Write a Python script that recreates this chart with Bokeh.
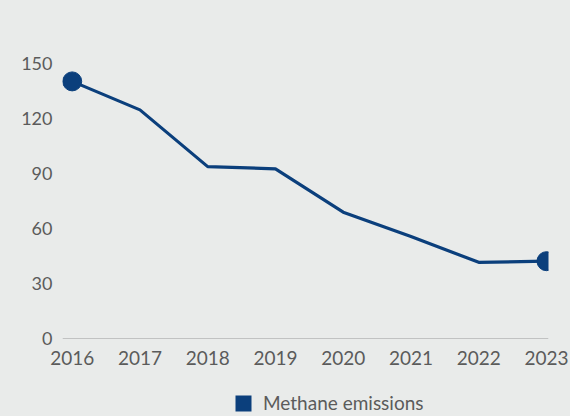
from bokeh.plotting import figure
from bokeh.layouts import column
from bokeh.models import Range1d, FixedTicker, Span, Legend, LegendItem
from bokeh.embed import file_html
from bokeh.resources import INLINE

years = [2016, 2017, 2018, 2019, 2020, 2021, 2022, 2023]
methane = [140, 124.5, 93.6, 92.4, 68.8, 55.5, 41.5, 42.1]
y_ticks = [0, 30, 60, 90, 120, 150]
series_name = "Methane emissions"

BG = "#e9ebea"
NAVY = "#0b3f7c"
TXT = "#5b5b5b"
FONT = "Lato"

p = figure(width=570, height=392, output_backend="svg", toolbar_location=None,
           x_range=Range1d(2015.857, 2023.03), y_range=Range1d(0, 168.8),
           min_border_left=62, min_border_right=22, min_border_top=28, min_border_bottom=54,
           background_fill_color=None, border_fill_color=BG, outline_line_color=None)

p.grid.visible = False

p.xaxis.ticker = FixedTicker(ticks=years)
p.yaxis.ticker = FixedTicker(ticks=y_ticks)
for ax in (p.xaxis, p.yaxis):
    ax.axis_line_color = None
    ax.major_tick_line_color = None
    ax.minor_tick_line_color = None
    ax.major_tick_out = 0
    ax.major_tick_in = 0
    ax.major_label_text_font = FONT
    ax.major_label_text_color = TXT
p.xaxis.major_label_text_font_size = "19px"
p.yaxis.major_label_text_font_size = "18px"
p.xaxis.major_label_standoff = 12
p.yaxis.major_label_standoff = 10

p.add_layout(Span(location=0, dimension="width", line_color="#9a9a9a", line_width=1))

p.line(years, methane, line_width=3.2, line_color=NAVY)
p.scatter([years[0], years[-1]], [methane[0], methane[-1]], size=19,
          fill_color=NAVY, line_color=NAVY)

# legend strip under the chart
lg = figure(width=570, height=24, output_backend="svg", toolbar_location=None,
            x_axis_type=None, y_axis_type=None,
            x_range=Range1d(0, 1), y_range=Range1d(0, 1),
            min_border=0, min_border_left=62, min_border_right=22,
            background_fill_color=None, border_fill_color=BG, outline_line_color=None)
lg.grid.visible = False
sq = lg.vbar(x=years, top=methane, width=0.5, fill_color=NAVY, line_color=None, visible=False)
legend = Legend(items=[LegendItem(label=series_name, renderers=[sq])],
                location=(171, 2), orientation="horizontal",
                background_fill_alpha=0, border_line_color=None,
                label_text_font=FONT, label_text_font_size="19px", label_text_color=TXT,
                glyph_width=20, glyph_height=20, label_height=20, padding=0, margin=0,
                spacing=0, label_standoff=10)
lg.add_layout(legend)

layout = column(p, lg, spacing=0, styles={"background-color": BG})

open("out.html", "w").write(file_html(layout, INLINE))
